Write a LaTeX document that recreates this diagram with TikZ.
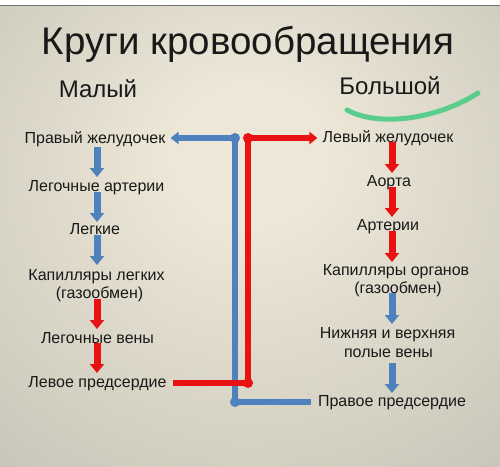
\documentclass[tikz,border=0pt]{standalone}
\usepackage{fontspec}
\setmainfont{Liberation Sans}
\usetikzlibrary{arrows.meta,calc}
\definecolor{bgin}{RGB}{236,231,215}
\definecolor{bgout}{RGB}{170,168,158}
\definecolor{ablue}{RGB}{79,129,189}
\definecolor{ared}{RGB}{232,18,18}
\definecolor{agreen}{RGB}{90,205,140}
\definecolor{txt}{RGB}{25,25,25}
\pgfdeclareradialshading{bgshade}{\pgfpoint{0bp}{10bp}}{color(0bp)=(bgin); color(8bp)=(bgin); color(66bp)=(bgout)}
\begin{document}
\begin{tikzpicture}[x=1pt,y=-1pt,
  lbl/.style={anchor=base, inner sep=0pt, text=txt, font=\fontsize{16}{19}\selectfont},
  head/.style={anchor=base, inner sep=0pt, text=txt, font=\fontsize{24}{28}\selectfont},
  downblue/.style={draw=ablue, line width=7pt, -{Triangle[width=14pt,length=9pt]}},
  downred/.style={draw=ared, line width=7pt, -{Triangle[width=14pt,length=9pt]}},
  bline/.style={draw=ablue, line width=5.5pt},
  rline/.style={draw=ared, line width=5.5pt},
  htip/.style={-{Triangle[width=12pt,length=8pt]}},
  bdot/.style={fill=ablue},
  rdot/.style={fill=ared}]
\useasboundingbox (0,0) rectangle (500,466);
% background
\fill[white] (0,0) rectangle (500,6);
\shade[shading=bgshade] (0,6) rectangle (500,466);
\draw[black!55, line width=0.8pt] (0,5.6) -- (500,5.6);
% title and headings
\node[anchor=base, inner sep=0pt, text=txt, font=\fontsize{38.5}{44}\selectfont] (title) at (248,54) {Круги кровообращения};
\node[head] (small) at (98,97) {Малый};
\node[head] (big) at (390,94) {Большой};
\coordinate (g1) at (347,110);
\coordinate (g2) at (478,93);
\draw[agreen, line width=5pt, line cap=round] (g1) .. controls (380,128) and (440,118) .. (g2);
% column axes
\coordinate (colL) at (97,0);
\coordinate (colR) at (392,0);
% left column
\node[lbl] (l1) at (95,143) {Правый желудочек};
\node[lbl] (l2) at (96.5,191) {Легочные артерии};
\node[lbl] (l3) at (95,234) {Легкие};
\node[lbl] (l4) at (96.5,280) {Капилляры легких};
\node[lbl] (l4b) at (99.5,298) {(газообмен)};
\node[lbl] (l5) at (97.5,343) {Легочные вены};
\node[lbl] (l6) at (97.5,387) {Левое предсердие};
% right column
\node[lbl] (r1) at (388,142) {Левый желудочек};
\node[lbl] (r2) at (389,186) {Аорта};
\node[lbl] (r3) at (388,230) {Артерии};
\node[lbl] (r4) at (396,275) {Капилляры органов};
\node[lbl] (r4b) at (398,293) {(газообмен)};
\node[lbl] (r5) at (387.5,338) {Нижняя и верхняя};
\node[lbl] (r5b) at (388.5,357) {полые вены};
\node[lbl] (r6) at (392,406) {Правое предсердие};
% left down arrows
\draw[downblue] ($(l1.base -| colL)+(0,4)$) -- ($(l2.base -| colL)+(0,-14)$);
\draw[downblue] ($(l2.base -| colL)+(0,1)$) -- ($(l3.base -| colL)+(0,-12)$);
\draw[downblue] ($(l3.base -| colL)+(0,1)$) -- ($(l4.base -| colL)+(0,-15)$);
\draw[downred] ($(l4b.base -| colL)+(0,1)$) -- ($(l5.base -| colL)+(0,-14)$);
\draw[downred] ($(l5.base -| colL)+(0,0)$) -- ($(l6.base -| colL)+(0,-14)$);
% right down arrows
\draw[downred] ($(r1.base -| colR)+(0,0)$) -- ($(r2.base -| colR)+(0,-13)$);
\draw[downred] ($(r2.base -| colR)+(0,1)$) -- ($(r3.base -| colR)+(0,-13)$);
\draw[downred] ($(r3.base -| colR)+(0,1)$) -- ($(r4.base -| colR)+(0,-13)$);
\draw[downblue] ($(r4b.base -| colR)+(0,0)$) -- ($(r5.base -| colR)+(0,-14)$);
\draw[downblue] ($(r5b.base -| colR)+(0,6)$) -- ($(r6.base -| colR)+(0,-13)$);
% junctions
\coordinate (bj1) at (235,138);
\coordinate (bj2) at (235,402);
\coordinate (rj1) at (248,138);
\coordinate (rj2) at (248,383);
% blue connector
\draw[bline, htip] (bj1) -- ($(l1.east |- bj1)+(5,0)$);
\draw[bline] ($(r6.west |- bj2)+(-7,0)$) -- (bj2) -- (bj1);
\fill[bdot] (bj1) circle (5pt);
\fill[bdot] (bj2) circle (5pt);
% red connector
\draw[rline, htip] ($(l6.east |- rj2)+(6,0)$) -- (rj2) -- (rj1) -- ($(r1.west |- rj1)+(-5,0)$);
\fill[rdot] (rj1) circle (5pt);
\fill[rdot] (rj2) circle (5pt);
\end{tikzpicture}
\end{document}
